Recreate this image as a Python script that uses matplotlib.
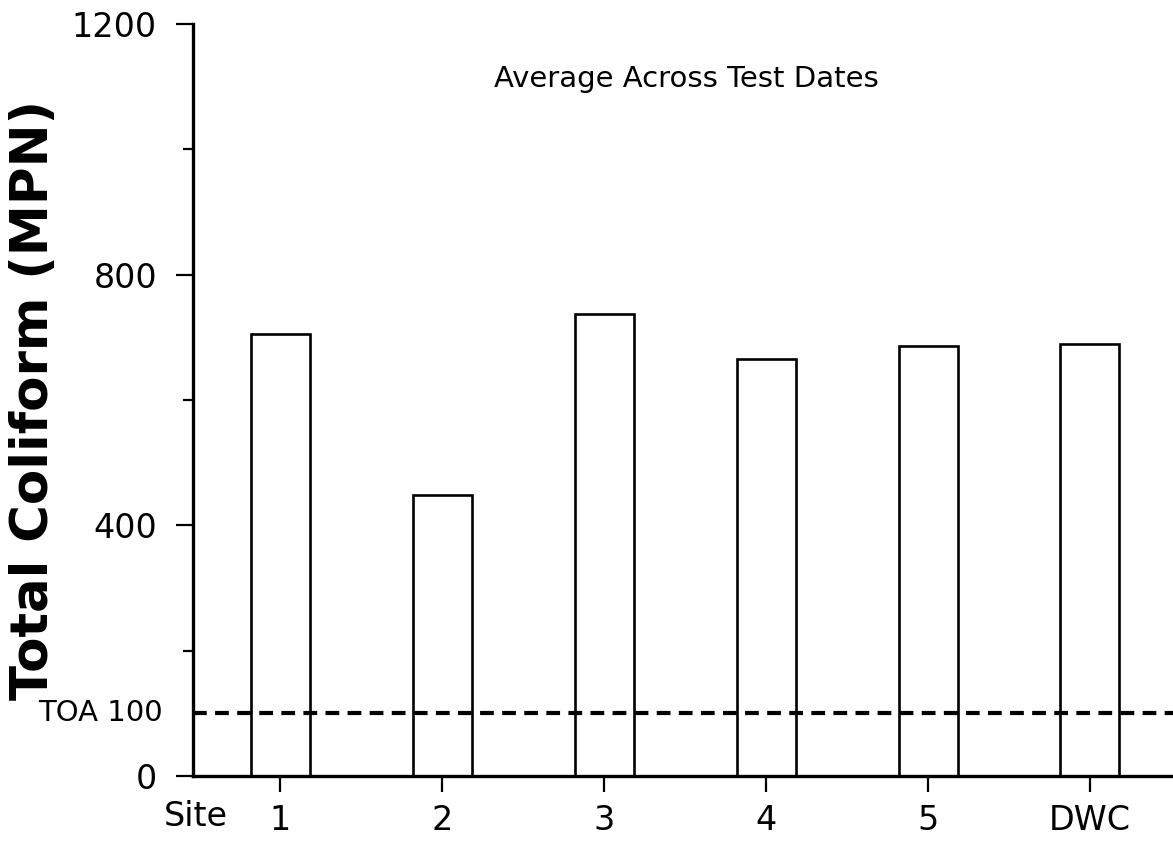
import matplotlib
matplotlib.use("Agg")
import matplotlib.pyplot as plt
from matplotlib.ticker import MultipleLocator

# average total coliform per site
sites = ["1", "2", "3", "4", "5", "DWC"]
coliform = [705, 448, 737, 666, 686, 690]
toa_limit = 100

plt.rcParams['font.family'] = ['DejaVu Sans']

fig = plt.figure(figsize=(11.73, 8.48), dpi=100)
ax = fig.add_axes([193 / 1173, 1 - 776 / 848, 1 - 193 / 1173, 752 / 848])

xpos = list(range(1, len(sites) + 1))
ax.bar(xpos, coliform, width=0.364, facecolor="white", edgecolor="black", linewidth=1.9, zorder=2)
ax.axhline(toa_limit, color="black", linewidth=3, linestyle=(0, (3.3, 2)), zorder=3)

ax.set_xlim(0.46, 6.513)
ax.set_ylim(0, 1200)

ax.spines["top"].set_visible(False)
ax.spines["right"].set_visible(False)
ax.spines["left"].set_linewidth(2.4)
ax.spines["bottom"].set_linewidth(2.4)

ax.set_yticks([0, 400, 800, 1200])
ax.yaxis.set_minor_locator(MultipleLocator(200))
ax.set_xticks(xpos)
ax.set_xticklabels(sites)
ax.tick_params(axis="y", which="major", direction="out", length=12, width=1.6, pad=14, labelsize=24)
ax.tick_params(axis="y", which="minor", direction="out", length=7, width=1.6)
ax.tick_params(axis="x", which="major", direction="out", length=11.5, width=1.6, pad=9, labelsize=24)

# label for the limit line, placed like a tick label
ax.text(-0.0306, toa_limit, "TOA 100", transform=ax.get_yaxis_transform(),
        ha="right", va="center", fontsize=21)
ax.text(196 / 1173, 1 - 817 / 848, "Site", transform=fig.transFigure,
        ha="center", va="center", fontsize=24)

ax.set_ylabel("Total Coliform (MPN)", fontsize=37, fontweight="bold")
ax.yaxis.set_label_coords(-0.137, 0.5)

ax.text(0.503, 0.916, "Average Across Test Dates", transform=ax.transAxes,
        ha="center", va="baseline", fontsize=21)

fig.savefig("out.png", dpi=100)
